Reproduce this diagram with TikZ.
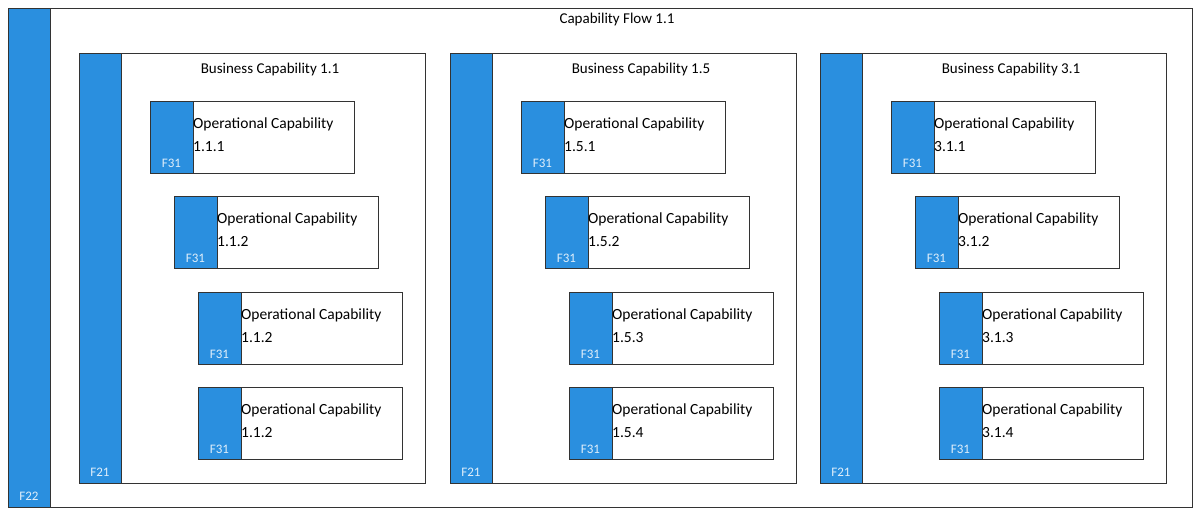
\documentclass[tikz,border=0pt]{standalone}
\usepackage{fontspec}
\setmainfont{Carlito}
\usetikzlibrary{positioning}
\definecolor{capblue}{HTML}{2A8FDF}
\tikzset{
  frame/.style={draw=black!80,fill=white,line width=0.8pt,anchor=north west,inner sep=0pt},
  strip/.style={draw=black!80,fill=capblue,line width=0.8pt,anchor=north west,inner sep=0pt},
  tag/.style={text=white!85!capblue,font=\fontsize{13}{13}\selectfont,anchor=south},
  heading/.style={font=\fontsize{15}{15}\selectfont,anchor=north},
  optext/.style={font=\fontsize{15.5}{23}\selectfont,align=left,anchor=north west,inner sep=0pt}
}
\begin{document}
\begin{tikzpicture}[x=1pt,y=-1pt]
  \useasboundingbox (0,0) rectangle (1200,515);
  % outer flow
  \node[frame,minimum width=1184pt,minimum height=499pt] (flow) at (8,8) {};
  \node[strip,minimum width=42pt,minimum height=499pt] (flowbar) at (8,8) {};
  \node[tag] (flowtag) at (29,504) {F22};
  \node[heading] (flowtitle) at (617,10) {Capability Flow 1.1};
  % business capabilities
  \foreach \bx/\bn/\ids in {79/a/{1.1.1,1.1.2,1.1.2,1.1.2}/, 450/b/{1.5.1,1.5.2,1.5.3,1.5.4}, 820/c/{3.1.1,3.1.2,3.1.3,3.1.4}}{
    \node[frame,minimum width=346pt,minimum height=430pt] (bus\bn) at (\bx,53) {};
    \node[strip,minimum width=42pt,minimum height=430pt] (busbar\bn) at (\bx,53) {};
    \node[tag] (bustag\bn) at (\bx+21,480) {F21};
  }
  \node[heading] (bustitlea) at (270,60) {Business Capability 1.1};
  \node[heading] (bustitleb) at (641,60) {Business Capability 1.5};
  \node[heading] (bustitlec) at (1011,60) {Business Capability 3.1};
  % operational capabilities
  \foreach \bx/\bn/\pa/\pb/\pc/\pd in {79/a/1.1.1/1.1.2/1.1.2/1.1.2, 450/b/1.5.1/1.5.2/1.5.3/1.5.4, 820/c/3.1.1/3.1.2/3.1.3/3.1.4}{
    \foreach \dx/\oy/\id/\k in {71/101/\pa/1, 95/196/\pb/2, 119/292/\pc/3, 119/387/\pd/4}{
      \node[frame,minimum width=204pt,minimum height=72pt] (op\bn\k) at (\bx+\dx,\oy) {};
      \node[strip,minimum width=43pt,minimum height=72pt] (opbar\bn\k) at (\bx+\dx,\oy) {};
      \node[tag] (optag\bn\k) at (\bx+\dx+21.5,\oy+70) {F31};
      \node[optext] (oplabel\bn\k) at (\bx+\dx+43,\oy+17) {Operational Capability\\\id};
    }
  }
\end{tikzpicture}
\end{document}
